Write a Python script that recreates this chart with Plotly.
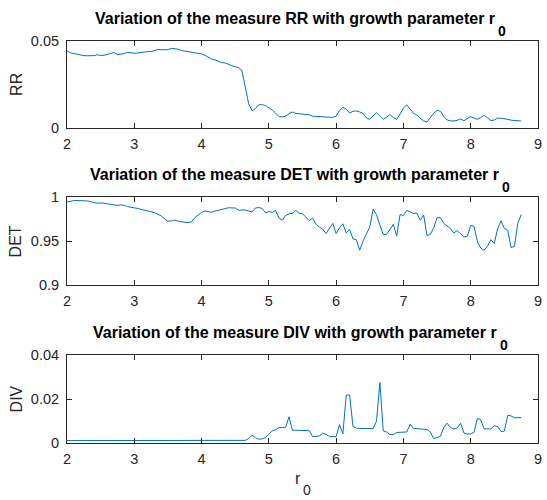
import plotly.graph_objects as go

# growth parameter r0 sampled every 0.05 from 2 to 8.75
r0 = [round(2 + 0.05 * i, 2) for i in range(136)]

rr = [
    0.0444, 0.0432, 0.0428, 0.0424, 0.0418, 0.0416, 0.0415, 0.0414, 0.0416, 0.0421,
    0.0417, 0.0418, 0.0422, 0.0426, 0.0433, 0.0421, 0.0424, 0.0428, 0.0435, 0.0432,
    0.0429, 0.0431, 0.0434, 0.0438, 0.0439, 0.0439, 0.0445, 0.0452, 0.0450, 0.0448,
    0.0450, 0.0458, 0.0457, 0.0453, 0.0445, 0.0442, 0.0440, 0.0437, 0.0434, 0.0431,
    0.0426, 0.0418, 0.0405, 0.0396, 0.0391, 0.0382, 0.0376, 0.0374, 0.0364, 0.0358,
    0.0352, 0.0347, 0.0330, 0.0240, 0.0140, 0.0099, 0.0112, 0.0133, 0.0134, 0.0129,
    0.0117, 0.0103, 0.0086, 0.0066, 0.0064, 0.0068, 0.0082, 0.0092, 0.0084, 0.0080,
    0.0080, 0.0078, 0.0076, 0.0068, 0.0066, 0.0066, 0.0065, 0.0064, 0.0062, 0.0061,
    0.0068, 0.0100, 0.0119, 0.0108, 0.0086, 0.0096, 0.0098, 0.0092, 0.0084, 0.0058,
    0.0050, 0.0070, 0.0088, 0.0068, 0.0050, 0.0062, 0.0077, 0.0060, 0.0050, 0.0080,
    0.0115, 0.0133, 0.0108, 0.0084, 0.0074, 0.0055, 0.0040, 0.0034, 0.0058, 0.0085,
    0.0102, 0.0096, 0.0066, 0.0046, 0.0041, 0.0040, 0.0044, 0.0052, 0.0042, 0.0052,
    0.0066, 0.0056, 0.0050, 0.0062, 0.0073, 0.0058, 0.0042, 0.0046, 0.0057, 0.0056,
    0.0054, 0.0050, 0.0045, 0.0044, 0.0042, 0.0040,
]

det = [
    0.9943, 0.9955, 0.9959, 0.9960, 0.9960, 0.9959, 0.9955, 0.9948, 0.9935, 0.9932,
    0.9933, 0.9930, 0.9922, 0.9915, 0.9912, 0.9905, 0.9910, 0.9905, 0.9890, 0.9885,
    0.9880, 0.9870, 0.9860, 0.9852, 0.9845, 0.9832, 0.9822, 0.9805, 0.9785, 0.9752,
    0.9725, 0.9728, 0.9738, 0.9725, 0.9715, 0.9712, 0.9708, 0.9718, 0.9765, 0.9800,
    0.9825, 0.9840, 0.9830, 0.9826, 0.9840, 0.9850, 0.9860, 0.9870, 0.9878, 0.9876,
    0.9875, 0.9850, 0.9850, 0.9852, 0.9840, 0.9830, 0.9875, 0.9880, 0.9870, 0.9820,
    0.9835, 0.9825, 0.9848, 0.9760, 0.9736, 0.9790, 0.9808, 0.9815, 0.9848, 0.9815,
    0.9810, 0.9770, 0.9730, 0.9760, 0.9690, 0.9660, 0.9635, 0.9585, 0.9650, 0.9700,
    0.9585, 0.9650, 0.9695, 0.9590, 0.9630, 0.9525, 0.9515, 0.9395, 0.9500, 0.9590,
    0.9660, 0.9860, 0.9800, 0.9680, 0.9575, 0.9575, 0.9640, 0.9690, 0.9555, 0.9800,
    0.9790, 0.9848, 0.9830, 0.9812, 0.9818, 0.9735, 0.9795, 0.9563, 0.9574, 0.9650,
    0.9765, 0.9765, 0.9700, 0.9665, 0.9640, 0.9590, 0.9620, 0.9580, 0.9545, 0.9555,
    0.9677, 0.9666, 0.9490, 0.9420, 0.9395, 0.9440, 0.9515, 0.9470, 0.9640, 0.9730,
    0.9642, 0.9620, 0.9425, 0.9440, 0.9700, 0.9800,
]

div = [
    0.0011, 0.0011, 0.0011, 0.0011, 0.0011, 0.0011, 0.0011, 0.0011, 0.0011, 0.0011,
    0.0011, 0.0011, 0.0011, 0.0011, 0.0011, 0.0011, 0.0011, 0.0011, 0.0011, 0.0011,
    0.0011, 0.0011, 0.0011, 0.0011, 0.0011, 0.0011, 0.0011, 0.0011, 0.0011, 0.0011,
    0.0011, 0.0011, 0.0011, 0.0011, 0.0011, 0.0011, 0.0011, 0.0011, 0.0011, 0.0011,
    0.0011, 0.0011, 0.0011, 0.0011, 0.0011, 0.0011, 0.0011, 0.0011, 0.0011, 0.0011,
    0.0011, 0.0011, 0.0011, 0.0012, 0.0020, 0.0036, 0.0024, 0.0017, 0.0019, 0.0024,
    0.0040, 0.0055, 0.0060, 0.0070, 0.0070, 0.0072, 0.0119, 0.0058, 0.0058, 0.0058,
    0.0058, 0.0057, 0.0056, 0.0029, 0.0029, 0.0032, 0.0045, 0.0040, 0.0029, 0.0029,
    0.0029, 0.0084, 0.0042, 0.0218, 0.0218, 0.0076, 0.0067, 0.0066, 0.0066, 0.0066,
    0.0066, 0.0066, 0.0099, 0.0275, 0.0055, 0.0050, 0.0038, 0.0038, 0.0048, 0.0049,
    0.0049, 0.0050, 0.0086, 0.0065, 0.0065, 0.0065, 0.0064, 0.0062, 0.0050, 0.0020,
    0.0025, 0.0031, 0.0070, 0.0090, 0.0070, 0.0064, 0.0068, 0.0090, 0.0045, 0.0041,
    0.0041, 0.0049, 0.0112, 0.0105, 0.0064, 0.0064, 0.0064, 0.0078, 0.0075, 0.0052,
    0.0054, 0.0126, 0.0123, 0.0115, 0.0115, 0.0115,
]

measures = ["RR", "DET", "DIV"]
series = [rr, det, div]
y_ranges = [[0, 0.05], [0.9, 1.0], [0, 0.04]]
y_tickvals = [[0, 0.05], [0.9, 0.95, 1.0], [0, 0.02, 0.04]]
y_ticktext = [["0", "0.05"], ["0.9", "0.95", "1"], ["0", "0.02", "0.04"]]
x_ticks = [2, 3, 4, 5, 6, 7, 8, 9]

W, H = 547, 500
ML, MR, MT, MB = 67, 5, 41, 57
PW, PH = W - ML - MR, H - MT - MB

# vertical pixel extents (top, bottom) of the three panels
panels = [(41, 128), (197, 285), (355, 443)]


def px(x):
    return (x - ML) / PW


def py(y):
    return 1 - (y - MT) / PH


FONT = "Liberation Sans, Arial, Helvetica, sans-serif"
AXC = "#262626"
LINE = "#0072BD"

fig = go.Figure()
layout = dict(
    width=W, height=H,
    margin=dict(l=ML, r=MR, t=MT, b=MB, pad=0),
    paper_bgcolor="white", plot_bgcolor="white",
    showlegend=False,
    font=dict(family=FONT, color=AXC),
)

annotations = []
for k, (name, vals) in enumerate(zip(measures, series)):
    idx = "" if k == 0 else str(k + 1)
    fig.add_trace(go.Scatter(
        x=r0, y=vals, mode="lines",
        line=dict(color=LINE, width=1),
        xaxis="x" + idx, yaxis="y" + idx,
        hoverinfo="skip",
    ))
    top, bot = panels[k]
    common = dict(
        showline=True, linecolor=AXC, linewidth=1, mirror="ticks",
        ticks="inside", ticklen=5, tickwidth=1, tickcolor=AXC,
        showgrid=False, zeroline=False,
        tickfont=dict(family=FONT, size=14.5, color=AXC),
        ticklabeloverflow="allow",
    )
    layout["xaxis" + idx] = dict(
        common, domain=[0, 1], range=[2, 9], tickvals=x_ticks,
        ticktext=[str(t) for t in x_ticks],
        anchor="y" + idx, ticklabelstandoff=3,
    )
    layout["yaxis" + idx] = dict(
        common, domain=[py(bot), py(top)], range=y_ranges[k],
        tickvals=y_tickvals[k], ticktext=y_ticktext[k],
        anchor="x" + idx, ticklabelstandoff=4,
    )

    # panel title with subscripted r0
    title_right = [501, 505, 502.5][k]
    annotations.append(dict(
        text="<b>Variation of the measure %s with growth parameter r</b>" % name,
        xref="paper", yref="paper", x=px(title_right), y=py(top - 23),
        xanchor="right", yanchor="middle", showarrow=False,
        font=dict(family=FONT, size=16, color="black"),
    ))
    annotations.append(dict(
        text="<b>0</b>",
        xref="paper", yref="paper", x=px(title_right - 1), y=py(top - 10),
        xanchor="left", yanchor="middle", showarrow=False,
        font=dict(family=FONT, size=14, color="black"),
    ))
    # y-axis label
    annotations.append(dict(
        text=name, textangle=-90,
        xref="paper", yref="paper", x=px(16), y=py((top + bot) / 2),
        xanchor="center", yanchor="middle", showarrow=False,
        font=dict(family=FONT, size=16, color=AXC),
    ))

# x-axis label r0 under the bottom panel
annotations.append(dict(
    text="r", xref="paper", yref="paper", x=px(305), y=py(478),
    xanchor="right", yanchor="middle", showarrow=False,
    font=dict(family=FONT, size=16, color=AXC),
))
annotations.append(dict(
    text="0", xref="paper", yref="paper", x=px(303), y=py(490),
    xanchor="left", yanchor="middle", showarrow=False,
    font=dict(family=FONT, size=14, color=AXC),
))

layout["annotations"] = annotations
fig.update_layout(**layout)
fig.write_html("out.html")
